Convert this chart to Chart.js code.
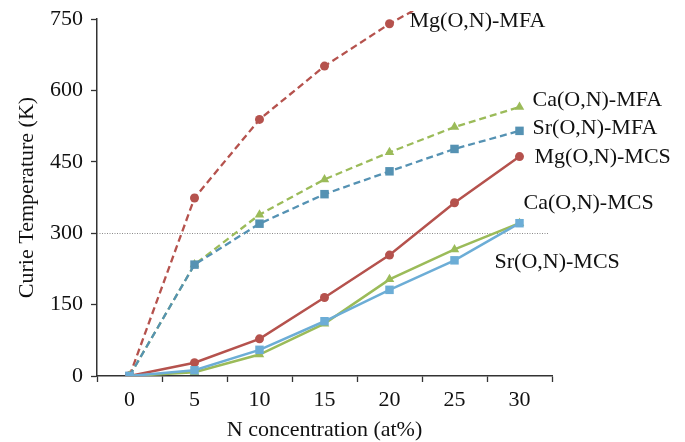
<!DOCTYPE html>
<html>
<head>
<meta charset="utf-8">
<script src="https://cdn.jsdelivr.net/npm/chart.js@4.4.1/dist/chart.umd.min.js"></script>
<style>
  html, body { margin: 0; padding: 0; background: #ffffff; }
  #wrap { width: 685px; height: 442px; }
</style>
</head>
<body>
<div id="wrap"><canvas id="c" width="685" height="442"></canvas></div>
<script>
// ---- data ----
const categories = ['0', '5', '10', '15', '20', '25', '30'];
const mgMFA = [0, 374, 539, 651, 740, 815, 870];
const caMFA = [0, 234, 339, 413, 470, 523, 565];
const srMFA = [0, 234, 320, 382, 430, 477, 515];
const mgMCS = [0, 28, 78, 165, 254, 364, 461];
const caMCS = [0, 8, 45, 110, 203, 266, 321];
const srMCS = [0, 12, 55, 115, 181, 243, 321];
const yTicks = [0, 150, 300, 450, 600, 750];
const seriesNames = ['Mg(O,N)-MFA', 'Ca(O,N)-MFA', 'Sr(O,N)-MFA', 'Mg(O,N)-MCS', 'Ca(O,N)-MCS', 'Sr(O,N)-MCS'];
const referenceLevel = 300;

const RED = '#b5524d', GREEN = '#9bbb59', BLUE_D = '#5592b3', BLUE_L = '#6cadd6';
const FONT = "'Liberation Serif', 'Times New Roman', serif";

function ds(label, data, color, style, dashed, radius, order) {
  return {
    label, data,
    borderColor: color, backgroundColor: color,
    pointBackgroundColor: color, pointBorderColor: color,
    borderWidth: dashed ? 2.3 : 2.5,
    borderDash: dashed ? [7, 4] : [],
    pointStyle: style, pointRadius: radius, pointBorderWidth: 0,
    tension: 0, order,
    clip: { left: 0, top: 8, right: 0, bottom: 0 }
  };
}

// label anchors: [dataset index, point index, dx, dy]
const labelAnchors = [
  [0, 4, 20, -3],
  [1, 6, 13, -7],
  [2, 6, 13, -3],
  [3, 6, 15, 1],
  [4, 6, 4, -20],
  [5, 6, -25, 39]
];

const extras = {
  id: 'extras',
  beforeDatasetsDraw(chart) {
    const y = chart.scales.y, a = chart.chartArea, ctx = chart.ctx;
    const py = Math.round(y.getPixelForValue(referenceLevel)) + 0.5;
    ctx.save();
    ctx.strokeStyle = '#8a8a8a';
    ctx.lineWidth = 1;
    ctx.setLineDash([1, 1.5]);
    ctx.beginPath();
    ctx.moveTo(a.left, py);
    ctx.lineTo(a.right - 4, py);
    ctx.stroke();
    ctx.restore();
  },
  afterDraw(chart) {
    const ctx = chart.ctx;
    ctx.save();
    ctx.font = '22px ' + FONT;
    ctx.fillStyle = '#111';
    ctx.textAlign = 'left';
    ctx.textBaseline = 'middle';
    labelAnchors.forEach(([di, pi, dx, dy]) => {
      const p = chart.getDatasetMeta(di).data[pi];
      ctx.fillText(seriesNames[di], p.x + dx, p.y + dy);
    });
    ctx.restore();
  }
};

new Chart(document.getElementById('c'), {
  type: 'line',
  data: {
    labels: categories,
    datasets: [
      ds(seriesNames[0], mgMFA, RED, 'circle', true, 4.5, 5),
      ds(seriesNames[1], caMFA, GREEN, 'triangle', true, 5.5, 4),
      ds(seriesNames[2], srMFA, BLUE_D, 'rect', true, 6, 3),
      ds(seriesNames[3], mgMCS, RED, 'circle', false, 4.5, 2),
      ds(seriesNames[4], caMCS, GREEN, 'triangle', false, 5.5, 1),
      ds(seriesNames[5], srMCS, BLUE_L, 'rect', false, 6, 0)
    ]
  },
  options: {
    responsive: false,
    animation: false,
    devicePixelRatio: 1,
    layout: { padding: { left: 0, right: 133, top: 19, bottom: 0 } },
    plugins: { legend: { display: false }, tooltip: { enabled: false } },
    scales: {
      x: {
        type: 'category',
        offset: true,
        grid: { offset: true, drawOnChartArea: false, tickLength: 6, tickColor: '#333', tickWidth: 1.3 },
        border: { color: '#333', width: 1.5 },
        ticks: { color: '#111', font: { family: FONT, size: 22, lineHeight: 1 }, padding: 7, maxRotation: 0 },
        title: { display: true, text: 'N concentration (at%)', color: '#111',
                 font: { family: FONT, size: 22, lineHeight: 1 }, padding: { top: 0, bottom: 1 } },
        afterFit(s) { s.height = 66; }
      },
      y: {
        min: 0, max: 750,
        afterBuildTicks(s) { s.ticks = yTicks.map(v => ({ value: v })); },
        grid: { drawOnChartArea: false, tickLength: 6, tickColor: '#333', tickWidth: 1.3 },
        border: { color: '#333', width: 1.5 },
        ticks: { color: '#111', font: { family: FONT, size: 22, lineHeight: 1 }, padding: 8 },
        title: { display: true, text: 'Curie Temperature (K)', color: '#111',
                 font: { family: FONT, size: 22, lineHeight: 1 }, padding: { top: 16, bottom: 0 } },
        afterFit(s) { s.width = 97; }
      }
    }
  },
  plugins: [extras]
});
</script>
</body>
</html>
